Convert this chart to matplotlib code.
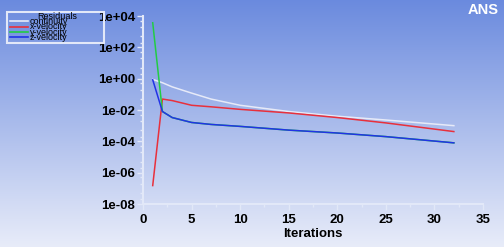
import matplotlib
matplotlib.use("Agg")
import matplotlib.pyplot as plt
import numpy as np
from matplotlib.lines import Line2D
from matplotlib.patches import Rectangle

plt.rcParams['font.family'] = ['Liberation Sans', 'DejaVu Sans']

# residual history
iters = [1, 2, 3, 5, 7, 10, 15, 20, 25, 32]
continuity = [0.9, 0.55, 0.3, 0.12, 0.05, 0.02, 8e-3, 4e-3, 2.3e-3, 1.0e-3]
x_velocity = [1.5e-7, 5e-2, 4e-2, 2e-2, 1.6e-2, 1.1e-2, 6.5e-3, 3.3e-3, 1.5e-3, 4.2e-4]
y_velocity = [3.7e3, 8e-3, 3.3e-3, 1.6e-3, 1.2e-3, 9e-4, 5.2e-4, 3.4e-4, 2e-4, 8e-5]
z_velocity = [0.85, 8e-3, 3.3e-3, 1.6e-3, 1.2e-3, 9e-4, 5.2e-4, 3.4e-4, 2e-4, 8e-5]

names = ["continuity", "x-velocity", "y-velocity", "z-velocity"]
series = [continuity, x_velocity, y_velocity, z_velocity]
colors = ["#e6eaf8", "#e8303c", "#22cc44", "#2233e6"]

yticks = [1e4, 1e2, 1e0, 1e-2, 1e-4, 1e-6, 1e-8]
ylabels = ["1e+04", "1e+02", "1e+00", "1e-02", "1e-04", "1e-06", "1e-08"]
xticks = [0, 5, 10, 15, 20, 25, 30, 35]

fig = plt.figure(figsize=(5.04, 2.47), dpi=100)

# background gradient
bg = fig.add_axes([0, 0, 1, 1])
top = np.array([106, 138, 222]) / 255
bot = np.array([232, 236, 249]) / 255
t = np.linspace(0, 1, 256)[:, None]
grad = top[None, :] * (1 - t) + bot[None, :] * t
bg.imshow(grad[:, None, :], aspect='auto', extent=[0, 1, 0, 1])
bg.set_axis_off()

ax = fig.add_axes([143 / 504, 1 - 204 / 247, 340 / 504, 188 / 247])
ax.patch.set_alpha(0)
for name, vals, c in zip(names, series, colors):
    ax.plot(iters, vals, color=c, lw=1.1, label=name)

ax.set_yscale('log')
ax.set_ylim(1e-8, 1e4)
ax.set_xlim(0, 35)
ax.set_yticks(yticks)
ax.set_yticklabels(ylabels)
ax.set_xticks(xticks)
ax.set_xticks(np.arange(2.5, 35, 5), minor=True)
ax.yaxis.set_minor_locator(matplotlib.ticker.LogLocator(base=10, subs=[2, 5], numticks=20))
ax.yaxis.set_minor_formatter(matplotlib.ticker.NullFormatter())

spc = "#e2e8f8"
for s in ['top', 'right']:
    ax.spines[s].set_visible(False)
for s in ['left', 'bottom']:
    ax.spines[s].set_color(spc)
    ax.spines[s].set_linewidth(1.5)
ax.tick_params(which='both', colors=spc, labelcolor='black', labelsize=9.5)
ax.tick_params(which='major', length=4, width=1)
ax.tick_params(which='minor', length=2, width=1)
ax.tick_params(axis='y', which='major', pad=1.5)
for lab in ax.get_xticklabels() + ax.get_yticklabels():
    lab.set_fontweight('bold')
ax.set_xlabel("Iterations", fontsize=9.5, fontweight='bold', labelpad=1)

fig.text(499 / 504, 1 - 10 / 247, "ANS", color='white', fontsize=10.5,
         fontweight='bold', ha='right', va='center')

# legend box
fig.patches.append(Rectangle((7 / 504, 1 - 43 / 247), 97 / 504, 31 / 247,
                             transform=fig.transFigure, fill=False,
                             edgecolor=spc, lw=1.5))
fig.text(57 / 504, 1 - 16.5 / 247, "Residuals", fontsize=6.5, ha='center',
         va='center', color='black')
for i, (name, c) in enumerate(zip(names, colors)):
    yp = 1 - (21.5 + 5.3 * i) / 247
    fig.lines.append(Line2D([10 / 504, 28 / 504], [yp, yp], color=c, lw=1.2,
                            transform=fig.transFigure))
    fig.text(30 / 504, yp, name, fontsize=6.5, va='center', color='black')

fig.savefig("out.png", dpi=100)
